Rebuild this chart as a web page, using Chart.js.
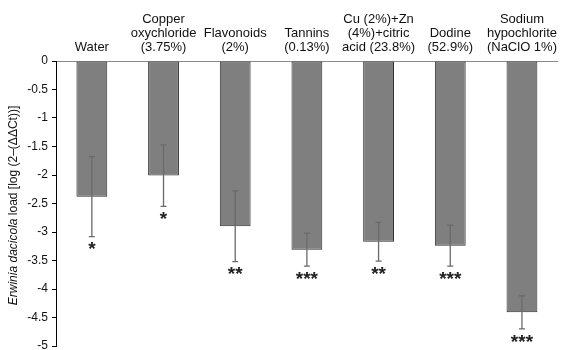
<!DOCTYPE html>
<html>
<head>
<meta charset="utf-8">
<script src="https://cdn.jsdelivr.net/npm/chart.js@4"></script>
<style>
  html, body { margin: 0; padding: 0; background: #fff; }
  canvas { display: block; }
</style>
</head>
<body>
<canvas id="chart" width="564" height="350"></canvas>
<script>
const categories = [
  ["Water"],
  ["Copper", "oxychloride", "(3.75%)"],
  ["Flavonoids", "(2%)"],
  ["Tannins", "(0.13%)"],
  ["Cu (2%)+Zn", "(4%)+citric", "acid (23.8%)"],
  ["Dodine", "(52.9%)"],
  ["Sodium", "hypochlorite", "(NaClO 1%)"],
];
const loads = [-2.38, -2.01, -2.90, -3.31, -3.17, -3.24, -4.41];
const errors = [0.70, 0.54, 0.62, 0.29, 0.34, 0.36, 0.29];
const stars = ["*", "*", "**", "***", "**", "***", "***"];

const FONT = "'Liberation Sans', Arial, Helvetica, sans-serif";

// error bars + significance marks, placed with the chart's own scales
const errorBars = {
  id: "errorBars",
  afterDatasetsDraw(chart) {
    const ctx = chart.ctx;
    const x = chart.scales.x;
    const y = chart.scales.y;
    ctx.save();
    loads.forEach((v, i) => {
      const cx = x.getPixelForValue(i);
      const top = y.getPixelForValue(v + errors[i]);
      const bot = y.getPixelForValue(v - errors[i]);
      ctx.strokeStyle = "#6a6a6a";
      ctx.lineWidth = 1.3;
      ctx.beginPath();
      ctx.moveTo(cx, top);
      ctx.lineTo(cx, bot);
      ctx.moveTo(cx - 3, top);
      ctx.lineTo(cx + 3, top);
      ctx.moveTo(cx - 3, bot);
      ctx.lineTo(cx + 3, bot);
      ctx.stroke();

      ctx.fillStyle = "#222";
      ctx.font = "bold 19px " + FONT;
      ctx.textAlign = "center";
      ctx.textBaseline = "top";
      ctx.fillText(stars[i], cx, bot + 4);
    });
    ctx.restore();
  },
};

// rotated y title with the italic species name
const yTitle = {
  id: "yTitle",
  afterDraw(chart) {
    const ctx = chart.ctx;
    const a = chart.chartArea;
    const italic = "italic 12px " + FONT;
    const normal = "12px " + FONT;
    const p1 = "Erwinia dacicola";
    const p2 = " load [log (2\u2013(\u0394\u0394Ct))]";
    ctx.save();
    ctx.font = italic;
    const w1 = ctx.measureText(p1).width;
    ctx.font = normal;
    const w2 = ctx.measureText(p2).width;
    ctx.translate(14, (a.top + a.bottom) / 2 + 2);
    ctx.rotate(-Math.PI / 2);
    ctx.fillStyle = "#111";
    ctx.textBaseline = "middle";
    ctx.textAlign = "left";
    const start = -(w1 + w2) / 2;
    ctx.font = italic;
    ctx.fillText(p1, start, 0);
    ctx.font = normal;
    ctx.fillText(p2, start + w1, 0);
    ctx.restore();
  },
};

new Chart(document.getElementById("chart"), {
  type: "bar",
  data: {
    labels: categories,
    datasets: [
      {
        data: loads,
        backgroundColor: "#7f7f7f",
        borderColor: "#2e2e2e",
        borderWidth: 1,
        borderSkipped: false,
        barPercentage: 0.43,
        categoryPercentage: 1,
      },
    ],
  },
  options: {
    responsive: false,
    animation: false,
    layout: { padding: { left: 0, right: 0, top: 0, bottom: 4 } },
    plugins: {
      legend: { display: false },
      tooltip: { enabled: false },
    },
    scales: {
      x: {
        position: "top",
        afterFit(scale) { scale.height = 61; },
        grid: { drawOnChartArea: false, drawTicks: false },
        border: { color: "#8a8a8a", width: 1 },
        ticks: {
          color: "#111",
          font: { family: FONT, size: 13, lineHeight: 1.05 },
          padding: 7,
          maxRotation: 0,
          autoSkip: false,
        },
      },
      y: {
        min: -5,
        max: 0,
        afterFit(scale) {
          scale.width = 56;
          scale.paddingTop = 0;
          scale.paddingBottom = 0;
        },
        grid: { drawOnChartArea: false, color: "#000", tickLength: 4 },
        border: { color: "#000", width: 1 },
        ticks: {
          stepSize: 0.5,
          color: "#111",
          padding: 4,
          font: { family: FONT, size: 12 },
          callback: (v) => String(Math.round(v * 10) / 10),
        },
      },
    },
  },
  plugins: [errorBars, yTitle],
});
</script>
</body>
</html>
